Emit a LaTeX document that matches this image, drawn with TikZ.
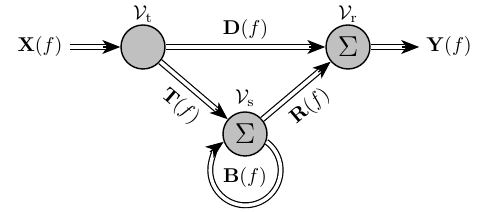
\documentclass[tikz,border=0pt]{standalone}
\usetikzlibrary{arrows.meta,positioning,calc}
\definecolor{NodeClr}{RGB}{192,192,192}

\begin{document}
\begin{tikzpicture}[x=0.5pt,y=0.5pt,
  Junction/.style={circle,draw=black,line width=0.7pt,fill=NodeClr,minimum size=22pt,inner sep=0pt},
  Flow/.style={draw=black,double,double distance=1.8pt,line width=0.6pt,shorten >=7pt},
  FlowTip/.style={draw=black,line width=0.6pt,-{Stealth[length=9pt,width=7pt,inset=2.5pt]}}]
\useasboundingbox (0,0) rectangle (500,212);

\node[Junction] (Vt) at (143,165) {};
\node[Junction] (Vr) at (348,165) {\Large$\Sigma$};
\node[Junction] (Vs) at (245,78) {\Large$\Sigma$};

\node[above=-2.5pt of Vt] (VtLbl) {$\mathcal{V}_{\mathrm{t}}$};
\node[above=-2.5pt of Vr] (VrLbl) {$\mathcal{V}_{\mathrm{r}}$};
\node[above=-1pt of Vs] (VsLbl) {$\mathcal{V}_{\mathrm{s}}$};

\node (X) at (40,165) {$\mathbf{X}(f)$};
\node (Y) at (449,165) {$\mathbf{Y}(f)$};

\draw[Flow] (X) -- (Vt);
\draw[Flow] (Vt) -- node[above] (DLbl) {$\mathbf{D}(f)$} (Vr);
\draw[Flow] (Vt) -- node[sloped,below=2pt,pos=0.5] (TLbl) {$\mathbf{T}(f)$} (Vs);
\draw[Flow] (Vs) -- node[sloped,below=2pt,pos=0.5] (RLbl) {$\mathbf{R}(f)$} (Vr);
\draw[Flow] (Vr) -- (Y);

% loop back into the scattering node
\draw[Flow] (Vs.-20) arc[start angle=53.6,end angle=-233.6,radius=35.2];
\node (BLbl) at (245,34) {$\mathbf{B}(f)$};

% solid heads on the double lines
\draw[FlowTip] ($(Vt.west)+(-8.5pt,0)$) -- (Vt.west);
\draw[FlowTip] ($(Vr)!19.5pt!(Vt)$) -- (Vr);
\draw[FlowTip] ($(Vs)!19.5pt!(Vt)$) -- (Vs);
\draw[FlowTip] ($(Vr)!19.5pt!(Vs)$) -- (Vr);
\draw[FlowTip] ($(Y.west)+(-8.5pt,0)$) -- (Y.west);
\draw[FlowTip] ($(Vs.200)+(216.4:8.5pt)$) -- (Vs.200);

\end{tikzpicture}
\end{document}
